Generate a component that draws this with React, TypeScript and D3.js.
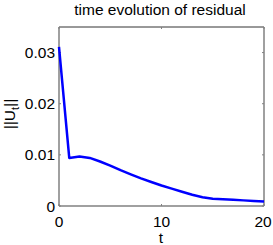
import React from "react";
import * as d3 from "d3";

// residual norm sampled at integer times
const times = [0, 1, 2, 3, 4, 5, 6, 7, 8, 9, 10, 11, 12, 13, 14, 15, 16, 17, 18, 19, 20];
const residual = [
  0.0311, 0.0094, 0.0097, 0.0094, 0.0087, 0.0079, 0.0070, 0.0062, 0.0054, 0.0047,
  0.0040, 0.0034, 0.0028, 0.0022, 0.0017, 0.0014, 0.0013, 0.0012, 0.0011, 0.0010, 0.0009,
];
const xTicks = [0, 10, 20];
const yTicks = [0, 0.01, 0.02, 0.03];
const yTickLabels = ["0", "0.01", "0.02", "0.03"];

const width = 273;
const height = 245;
const margins = { top: 27, right: 9, bottom: 39, left: 59 };
const font = "'Liberation Sans', Arial, sans-serif";

const App = () => {
  const xScale = d3
    .scaleLinear()
    .domain([0, 20])
    .range([margins.left, width - margins.right]);
  const yScale = d3
    .scaleLinear()
    .domain([0, 0.035])
    .range([height - margins.bottom, margins.top]);

  const line = d3
    .line<number>()
    .x((d, i) => xScale(times[i]))
    .y((d) => yScale(d));

  const x0 = margins.left;
  const x1 = width - margins.right;
  const y0 = height - margins.bottom;
  const y1 = margins.top;
  const axisColor = "#808080";

  return (
    <svg
      width={width}
      height={height}
      style={{ position: "absolute", left: 0, top: 0, background: "#fff" }}
      fontFamily={font}
    >
      <rect x={0} y={0} width={width} height={height} fill="#fff" />
      <text x={160} y={15} fontSize={15.5} textAnchor="middle" fill="#000">
        time evolution of residual
      </text>

      {/* axes box */}
      <line x1={x0} y1={y1} x2={x1} y2={y1} stroke="#333" strokeWidth={1} />
      <line x1={x0} y1={y0} x2={x1} y2={y0} stroke={axisColor} strokeWidth={1.5} />
      <line x1={x0} y1={y0} x2={x0} y2={y1} stroke={axisColor} strokeWidth={1.5} />
      <line x1={x1} y1={y0} x2={x1} y2={y1} stroke={axisColor} strokeWidth={1.5} />

      {xTicks.map((t, i) => (
        <g key={t}>
          <line x1={xScale(t)} y1={y0} x2={xScale(t)} y2={y0 - 2} stroke={axisColor} />
          <line x1={xScale(t)} y1={y1} x2={xScale(t)} y2={y1 + 2} stroke={axisColor} />
          <text
            x={i === xTicks.length - 1 ? xScale(t) - 1 : xScale(t)}
            y={227}
            fontSize={15.5}
            textAnchor="middle"
            fill="#000"
          >
            {t}
          </text>
        </g>
      ))}

      {yTicks.map((v, i) => (
        <g key={v}>
          <line x1={x0} y1={yScale(v)} x2={x0 + 2} y2={yScale(v)} stroke={axisColor} />
          <line x1={x1} y1={yScale(v)} x2={x1 - 2} y2={yScale(v)} stroke={axisColor} />
          <text
            x={55}
            y={yScale(v)}
            dy="0.36em"
            fontSize={15.5}
            textAnchor="end"
            fill="#000"
          >
            {yTickLabels[i]}
          </text>
        </g>
      ))}

      <path d={line(residual) || ""} fill="none" stroke="#0000ff" strokeWidth={2.5} strokeLinejoin="round" />

      <text x={161} y={243} fontSize={15.5} textAnchor="middle" fill="#000">
        t
      </text>
      <text
        transform={`translate(15, 114) rotate(-90)`}
        fontSize={15.5}
        textAnchor="middle"
        fill="#000"
      >
        ||U<tspan dy={4} fontSize={11}>t</tspan>
        <tspan dy={-4}>||</tspan>
      </text>
    </svg>
  );
};

export default App;
